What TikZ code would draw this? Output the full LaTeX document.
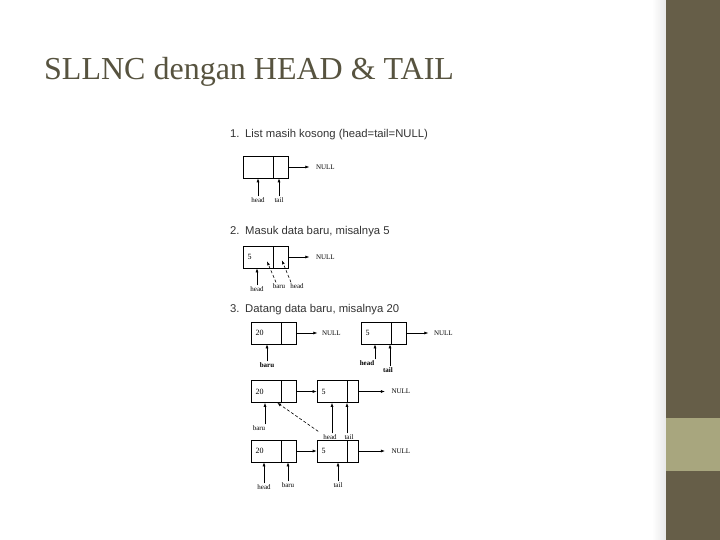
\documentclass[tikz,border=0pt]{standalone}
\usepackage{fontspec}
\setmainfont{Liberation Serif}
\newfontfamily\headfont{Liberation Sans}
\usetikzlibrary{positioning,arrows.meta}
\definecolor{barcol}{HTML}{665E48}
\definecolor{bandcol}{HTML}{A8A67E}
\definecolor{titlecol}{HTML}{57533F}
\tikzset{
  datacell/.style={draw, line width=0.6pt, minimum height=22pt, text width=21pt,
    inner xsep=4.5pt, inner ysep=0pt, align=left, font=\fontsize{8}{8}\selectfont},
  nextcell/.style={draw, line width=0.6pt, minimum width=14.5pt, minimum height=22pt, inner sep=0pt},
  nulltext/.style={inner sep=0.5pt, font=\fontsize{7}{7}\selectfont},
  ptrlabel/.style={inner sep=1pt, font=\fontsize{7}{7}\selectfont},
  ptr/.style={-{Latex[length=4pt,width=3pt]}, line width=0.6pt},
  langkah/.style={anchor=west, inner sep=0pt, text=black!80, font=\headfont\fontsize{11.3}{11.3}\selectfont}
}
\begin{document}
\begin{tikzpicture}[x=1pt, y=-1pt]
  % Fondo y barra lateral
  \useasboundingbox (0,0) rectangle (720,540);
  \fill[white] (0,0) rectangle (720,540);
  \shade[left color=white, right color=black!9] (652,0) rectangle (666,540);
  \fill[barcol] (666,0) rectangle (720,540);
  \fill[bandcol] (666,418) rectangle (720,471);

  % Titulo
  \node[anchor=base west, inner sep=0pt, text=titlecol, font=\fontsize{32}{32}\selectfont]
    (judul) at (44,80) {SLLNC dengan HEAD \& TAIL};

  % Paso 1: lista vacia
  \node[langkah] (t1) at (230,135) {\makebox[15pt][l]{1.}List masih kosong (head=tail=NULL)};
  \node[datacell] (d1) at (258,167) {};
  \node[nextcell, right=0pt of d1] (n1) {};
  \node[nulltext, right=27pt of n1] (nul1) {NULL};
  \draw[ptr, shorten >=6pt] (n1.east) -- (nul1.west);
  \node[ptrlabel] (h1) at (258,200) {head};
  \node[ptrlabel] (e1) at (279,200) {tail};
  \draw[ptr] (h1.north) -- (h1.north |- d1.south);
  \draw[ptr] (e1.north) -- (e1.north |- d1.south);

  % Paso 2: entra el dato 5
  \node[langkah] (t2) at (230,232) {\makebox[15pt][l]{2.}Masuk data baru, misalnya 5};
  \node[datacell] (d2) at (258,257) {5};
  \node[nextcell, right=0pt of d2] (n2) {};
  \node[nulltext, right=27pt of n2] (nul2) {NULL};
  \draw[ptr, shorten >=6pt] (n2.east) -- (nul2.west);
  \node[ptrlabel] (h2) at (257,289) {head};
  \node[ptrlabel] (b2) at (279,286) {baru};
  \node[ptrlabel] (e2) at (297,286) {head};
  \draw[ptr] (h2.north) -- (h2.north |- d2.south);
  \draw[ptr, densely dashed] ([xshift=-3pt]b2.north) -- ([xshift=9pt,yshift=7pt]d2.south);
  \draw[ptr, densely dashed] ([xshift=-6pt]e2.north) -- ([xshift=1pt,yshift=8pt]n2.south);

  % Paso 3: llega el dato 20
  \node[langkah] (t3) at (230,310) {\makebox[15pt][l]{3.}Datang data baru, misalnya 20};
  \node[datacell] (a3) at (266,333) {20};
  \node[nextcell, right=0pt of a3] (p3) {};
  \node[nulltext, right=25pt of p3] (nul3) {NULL};
  \draw[ptr, shorten >=4pt] (p3.east) -- (nul3.west);
  \node[datacell] (c3) at (376,333) {5};
  \node[nextcell, right=0pt of c3] (q3) {};
  \node[nulltext, right=27pt of q3] (nul4) {NULL};
  \draw[ptr, shorten >=5pt] (q3.east) -- (nul4.west);
  \node[ptrlabel] (b3) at (267,365) {\textbf{baru}};
  \node[ptrlabel] (h3) at (367,363) {\textbf{head}};
  \node[ptrlabel] (e3) at (388,370) {\textbf{tail}};
  \draw[ptr] (b3.north) -- (b3.north |- a3.south);
  \draw[ptr] ([xshift=8pt]h3.north) -- ([xshift=8pt]h3.north |- c3.south);
  \draw[ptr] ([xshift=2pt]e3.north) -- ([xshift=2pt]e3.north |- c3.south);

  % Enlace del nuevo nodo
  \node[datacell] (a4) at (266,391.5) {20};
  \node[nextcell, right=0pt of a4] (p4) {};
  \node[datacell] (c4) at (332,391.5) {5};
  \node[nextcell, right=0pt of c4, minimum width=11pt] (q4) {};
  \node[nulltext, right=32pt of q4] (nul5) {NULL};
  \draw[ptr] (p4.east) -- (c4.west);
  \draw[ptr, shorten >=6pt] (q4.east) -- (nul5.west);
  \node[ptrlabel] (b4) at (259,428) {baru};
  \node[ptrlabel] (h4) at (330,437) {head};
  \node[ptrlabel] (e4) at (349,437) {tail};
  \draw[ptr] ([xshift=6pt]b4.north) -- ([xshift=6pt]b4.north |- a4.south);
  \draw[ptr] ([xshift=2pt]h4.north) -- ([xshift=2pt]h4.north |- c4.south);
  \draw[ptr] ([xshift=-2pt]e4.north) -- ([xshift=-2pt]e4.north |- c4.south);
  \draw[ptr, densely dashed] ([xshift=-4pt,yshift=2pt]h4.north west) -- ([xshift=-4pt]a4.south east);

  % head pasa al nuevo nodo
  \node[datacell] (a5) at (266,451) {20};
  \node[nextcell, right=0pt of a5] (p5) {};
  \node[datacell] (c5) at (332,451) {5};
  \node[nextcell, right=0pt of c5, minimum width=11pt] (q5) {};
  \node[nulltext, right=32pt of q5] (nul6) {NULL};
  \draw[ptr] (p5.east) -- (c5.west);
  \draw[ptr, shorten >=6pt] (q5.east) -- (nul6.west);
  \node[ptrlabel] (h5) at (264,487) {head};
  \node[ptrlabel] (b5) at (288,485) {baru};
  \node[ptrlabel] (e5) at (338,485) {tail};
  \draw[ptr] (h5.north) -- (h5.north |- a5.south);
  \draw[ptr] (b5.north) -- (b5.north |- p5.south);
  \draw[ptr] (e5.north) -- (e5.north |- c5.south);
\end{tikzpicture}
\end{document}
